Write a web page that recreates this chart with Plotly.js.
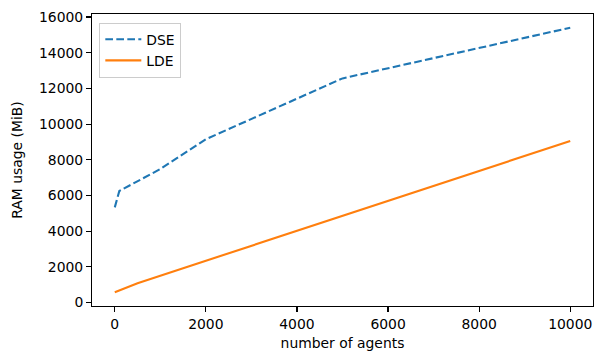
<!DOCTYPE html>
<html>
<head>
<meta charset="utf-8">
<script src="https://cdn.plot.ly/plotly-3.0.1.min.js"></script>
<style>
  html, body { margin: 0; padding: 0; background: #fff; }
  #chart { width: 595px; height: 352px; }
</style>
</head>
<body>
<div id="chart"></div>
<script>
// Data
const dseAgents = [0, 100, 1000, 2000, 5000, 10000];
const dseRam    = [5330, 6250, 7480, 9150, 12560, 15400];

const ldeAgents = [0, 100, 500, 1000, 2000, 5000, 10000];
const ldeRam    = [580, 680, 1075, 1500, 2340, 4860, 9050];

const seriesNames = ["DSE", "LDE"];
const xTitle = "number of agents";
const yTitle = "RAM usage (MiB)";

const font = { family: "DejaVu Sans, sans-serif", size: 13.9, color: "#000" };

const traces = [
  {
    x: dseAgents, y: dseRam, name: seriesNames[0], type: "scatter", mode: "lines",
    line: { color: "#1f77b4", width: 2.1, dash: "7.7px,3.3px" }
  },
  {
    x: ldeAgents, y: ldeRam, name: seriesNames[1], type: "scatter", mode: "lines",
    line: { color: "#ff7f0e", width: 2.1 }
  }
];

const axisCommon = {
  showgrid: false, zeroline: false,
  showline: true, mirror: true, linecolor: "#000", linewidth: 1.1,
  ticks: "outside", ticklen: 4.9, tickwidth: 1.1, tickcolor: "#000",
  tickfont: font, automargin: false
};

const layout = {
  width: 595, height: 352,
  margin: { l: 92, r: 2, t: 14, b: 46, pad: 0 },
  paper_bgcolor: "#fff", plot_bgcolor: "#fff",
  font: font,
  showlegend: true,
  legend: {
    x: 0.0146, y: 0.97, xanchor: "left", yanchor: "top",
    bgcolor: "rgba(255,255,255,0.8)", bordercolor: "#cccccc", borderwidth: 1,
    font: font, itemwidth: 36
  },
  xaxis: Object.assign({}, axisCommon, {
    range: [-500, 10500],
    tickvals: [0, 2000, 4000, 6000, 8000, 10000],
    ticktext: ["0", "2000", "4000", "6000", "8000", "10000"],
    title: { text: xTitle, font: font, standoff: 7 }
  }),
  yaxis: Object.assign({}, axisCommon, {
    range: [-196, 16168],
    tickvals: [0, 2000, 4000, 6000, 8000, 10000, 12000, 14000, 16000],
    ticktext: ["0", "2000", "4000", "6000", "8000", "10000", "12000", "14000", "16000"],
    title: { text: yTitle, font: font, standoff: 13 }
  })
};

Plotly.newPlot("chart", traces, layout, { staticPlot: true, displayModeBar: false });
</script>
</body>
</html>
